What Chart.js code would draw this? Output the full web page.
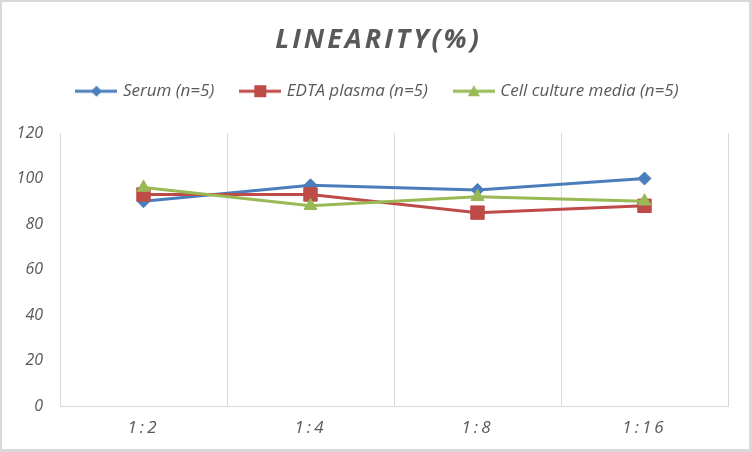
<!DOCTYPE html>
<html>
<head>
<meta charset="utf-8">
<script src="https://cdn.jsdelivr.net/npm/chart.js@4.4.0/dist/chart.umd.min.js"></script>
<style>
html, body { margin: 0; padding: 0; background: #fff; }
#wrap { width: 752px; height: 452px; box-sizing: border-box; border-style: solid; border-color: #d9d9d9; border-width: 2px 3px 3px 2px; }
canvas { display: block; }
</style>
</head>
<body>
<div id="wrap"><canvas id="chart" width="747" height="447" style="width:747px;height:447px"></canvas></div>
<script>
// values
const dilutions = ['1:2', '1:4', '1:8', '1:16'];
const serum = [90, 97, 95, 100];
const edtaPlasma = [93, 93, 85, 88];
const cellCulture = [96, 88, 92, 90];
const yTicks = [0, 20, 40, 60, 80, 100, 120];

const textColor = '#595959';
const gridColor = '#d9d9d9';
const blue = '#4a7ebb';
const red = '#be4b48';
const green = '#98b954';
const font = 'Open Sans';

// legend icon: short line with the series marker in the middle
function legendIcon(color, shape) {
    const c = document.createElement('canvas');
    c.width = 42;
    c.height = 16;
    const g = c.getContext('2d');
    g.strokeStyle = color;
    g.fillStyle = color;
    g.lineWidth = 3;
    g.beginPath();
    g.moveTo(0, 8);
    g.lineTo(42, 8);
    g.stroke();
    g.beginPath();
    if (shape === 'diamond') {
        g.moveTo(21, 2.5); g.lineTo(26.5, 8); g.lineTo(21, 13.5); g.lineTo(15.5, 8);
    } else if (shape === 'square') {
        g.rect(15, 2, 12, 12);
    } else {
        g.moveTo(21, 2); g.lineTo(27, 13); g.lineTo(15, 13);
    }
    g.closePath();
    g.fill();
    return c;
}
const icons = [legendIcon(blue, 'diamond'), legendIcon(red, 'square'), legendIcon(green, 'triangle')];

const ctx = document.getElementById('chart');
const chart = new Chart(ctx, {
    type: 'line',
    data: {
        labels: dilutions,
        datasets: [
            {
                label: 'Serum (n=5)',
                data: serum,
                borderColor: blue,
                backgroundColor: blue,
                pointStyle: 'rectRot',
                pointRadius: 6.5,
                borderWidth: 3,
                pointBorderWidth: 1,
                order: 3
            },
            {
                label: 'EDTA plasma (n=5)',
                data: edtaPlasma,
                borderColor: red,
                backgroundColor: red,
                pointStyle: 'rect',
                pointRadius: 9.5,
                borderWidth: 3,
                pointBorderWidth: 1,
                order: 2
            },
            {
                label: 'Cell culture media (n=5)',
                data: cellCulture,
                borderColor: green,
                backgroundColor: green,
                pointStyle: 'triangle',
                pointRadius: 7.5,
                borderWidth: 3,
                pointBorderWidth: 1,
                order: 1
            }
        ]
    },
    options: {
        responsive: false,
        animation: false,
        devicePixelRatio: 1,
        layout: { padding: { left: 6, right: 0, top: 0, bottom: 0 } },
        plugins: {
            title: {
                display: true,
                text: 'LINEARITY(%)',
                color: textColor,
                font: { family: font, size: 27, weight: 'bold', style: 'italic', lineHeight: 1.1 },
                padding: { top: 23, bottom: 0 }
            },
            legend: {
                weight: 1800,
                labels: {
                    color: textColor,
                    font: { family: font, size: 17, style: 'italic' },
                    usePointStyle: true,
                    pointStyleWidth: 36,
                    padding: 28,
                    generateLabels(chart) {
                        const items = Chart.defaults.plugins.legend.labels.generateLabels(chart);
                        items.sort((a, b) => a.datasetIndex - b.datasetIndex);
                        items.forEach(it => { it.pointStyle = icons[it.datasetIndex]; });
                        return items;
                    }
                }
            },
            subtitle: {
                display: true,
                text: '',
                font: { size: 1, lineHeight: 1 },
                padding: { top: 0, bottom: 22.3 }
            },
            tooltip: { enabled: false }
        },
        scales: {
            x: {
                offset: true,
                grid: { offset: true, color: gridColor, drawTicks: false },
                border: { color: gridColor },
                ticks: { color: textColor, font: { family: font, size: 17, style: 'italic' }, padding: 12 },
                afterFit(scale) { scale.height = 43; }
            },
            y: {
                min: yTicks[0],
                max: yTicks[yTicks.length - 1],
                grid: { display: false, drawTicks: false },
                border: { display: false },
                ticks: { stepSize: yTicks[1] - yTicks[0], color: textColor, font: { family: font, size: 16, style: 'italic' }, padding: 17 },
                afterFit(scale) { scale.width = 52; }
            },
            // empty right-hand strip so the title and legend stay centred on the whole canvas
            yRight: {
                type: 'linear',
                position: 'right',
                grid: { display: false, drawTicks: false },
                border: { display: false },
                ticks: { display: false },
                afterFit(scale) { scale.width = 21; }
            }
        }
    }
});

// Excel-like letter spacing on the title and the category labels
function spaced(obj, method, spacing) {
    const orig = obj[method].bind(obj);
    obj[method] = function (...args) {
        const c = chart.ctx;
        c.save();
        c.letterSpacing = spacing;
        orig(...args);
        c.restore();
    };
}
spaced(chart.titleBlock, 'draw', '3px');
spaced(chart.scales.x, 'drawLabels', '3px');
chart.draw();
</script>
</body>
</html>
